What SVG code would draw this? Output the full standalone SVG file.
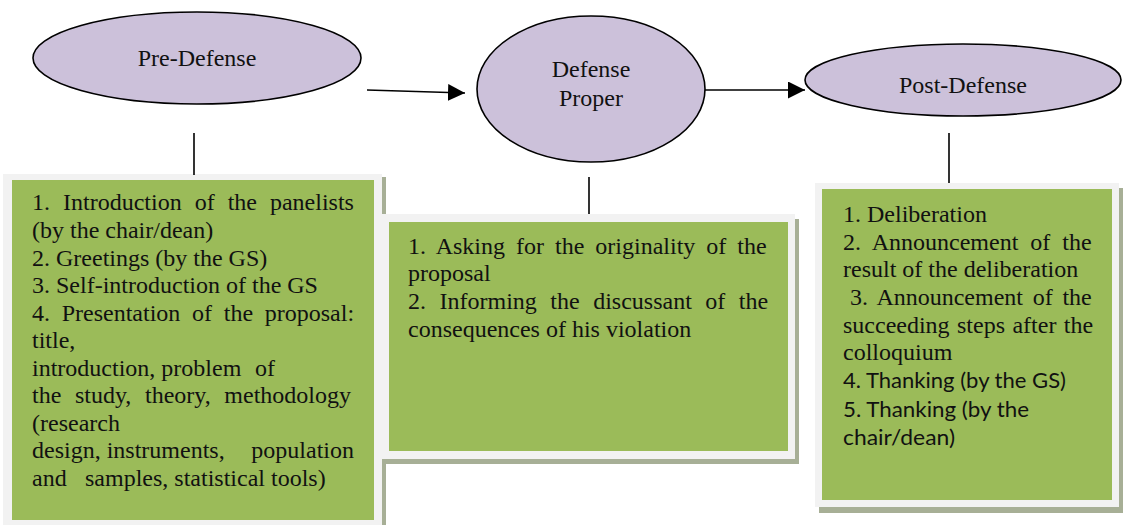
<svg xmlns="http://www.w3.org/2000/svg" width="1123" height="525" viewBox="0 0 1123 525">
<defs>
<style>
.ell{fill:#ccc1da;stroke:#000;stroke-width:1.6}
.frame{fill:#f2f2f2}
.shadow{fill:#a7af96}
.green{fill:#9bbb59}
.t{font-family:"Liberation Serif","Times New Roman",serif;font-size:24px;fill:#111}
.s{font-family:Lato,"Liberation Sans",sans-serif;font-size:22px;fill:#111}
.ln{stroke:#000;stroke-width:1.6;fill:none}
</style>
<marker id="ah" markerUnits="userSpaceOnUse" markerWidth="18" markerHeight="18" refX="17" refY="8.5" orient="auto">
<polygon points="0,0 17,8.5 0,17" fill="#000"/>
</marker>
</defs>
<rect width="1123" height="525" fill="#fff"/>

<g id="box-pre">
<rect class="shadow" x="7" y="177" width="379" height="355"/>
<rect class="frame" x="3" y="174" width="379" height="355"/>
<rect class="green" x="12" y="180" width="362" height="340"/>
<text class="t" x="32" y="210" word-spacing="7">1. Introduction of the panelists</text>
<text class="t" x="32" y="238">(by the chair/dean)</text>
<text class="t" x="32" y="266">2. Greetings (by the GS)</text>
<text class="t" x="32" y="293">3. Self-introduction of the GS</text>
<text class="t" x="32" y="321" word-spacing="5.7">4. Presentation of the proposal:</text>
<text class="t" x="32" y="348">title,</text>
<text class="t" x="32" y="376">introduction, problem<tspan x="255">of</tspan></text>
<text class="t" x="32" y="403" word-spacing="7.6">the study, theory, methodology</text>
<text class="t" x="32" y="431">(research</text>
<text class="t" x="32" y="458">design, instruments,</text>
<text class="t" x="354" y="458" text-anchor="end">population</text>
<text class="t" x="32" y="486">and<tspan x="85">samples, statistical tools)</tspan></text>
</g>

<g id="box-defense">
<rect class="shadow" x="386" y="219" width="413" height="245"/>
<rect class="frame" x="382" y="214" width="413" height="245"/>
<rect class="green" x="389" y="222" width="399" height="229"/>
<text class="t" x="408" y="254" word-spacing="5">1. Asking for the originality of the</text>
<text class="t" x="408" y="281">proposal</text>
<text class="t" x="408" y="309" word-spacing="7.5">2. Informing the discussant of the</text>
<text class="t" x="408" y="337">consequences of his violation</text>
</g>

<g id="box-post">
<rect class="shadow" x="819" y="188" width="304" height="325"/>
<rect class="frame" x="815" y="183" width="304" height="324"/>
<rect class="green" x="822" y="189" width="290" height="311"/>
<text class="t" x="843" y="222">1. Deliberation</text>
<text class="t" x="843" y="250" word-spacing="6">2. Announcement of the</text>
<text class="t" x="843" y="277">result of the deliberation</text>
<text class="t" x="850" y="305" word-spacing="3.7">3. Announcement of the</text>
<text class="t" x="843" y="333" word-spacing="1.4">succeeding steps after the</text>
<text class="t" x="843" y="360">colloquium</text>
<text class="s" x="843" y="388" textLength="223" lengthAdjust="spacingAndGlyphs">4. Thanking (by the GS)</text>
<text class="s" x="843" y="417" textLength="186" lengthAdjust="spacingAndGlyphs">5. Thanking (by the</text>
<text class="s" x="843" y="445" textLength="112" lengthAdjust="spacingAndGlyphs">chair/dean)</text>
</g>

<g id="connectors">
<line class="ln" x1="194" y1="133" x2="194" y2="175"/>
<line class="ln" x1="589" y1="177" x2="589" y2="214"/>
<line class="ln" x1="949" y1="133" x2="949" y2="183"/>
<line class="ln" x1="367" y1="90" x2="465" y2="93" marker-end="url(#ah)"/>
<line class="ln" x1="705" y1="90" x2="805" y2="90" marker-end="url(#ah)"/>
</g>

<g id="node-pre">
<ellipse class="ell" cx="197" cy="58" rx="164" ry="46"/>
<text class="t" x="197" y="66" text-anchor="middle">Pre-Defense</text>
</g>
<g id="node-defense">
<ellipse class="ell" cx="591" cy="89" rx="114" ry="73"/>
<text class="t" x="591" y="77" text-anchor="middle">Defense</text>
<text class="t" x="591" y="106" text-anchor="middle">Proper</text>
</g>
<g id="node-post">
<ellipse class="ell" cx="963" cy="80" rx="158" ry="36"/>
<text class="t" x="963" y="93" text-anchor="middle">Post-Defense</text>
</g>
</svg>
